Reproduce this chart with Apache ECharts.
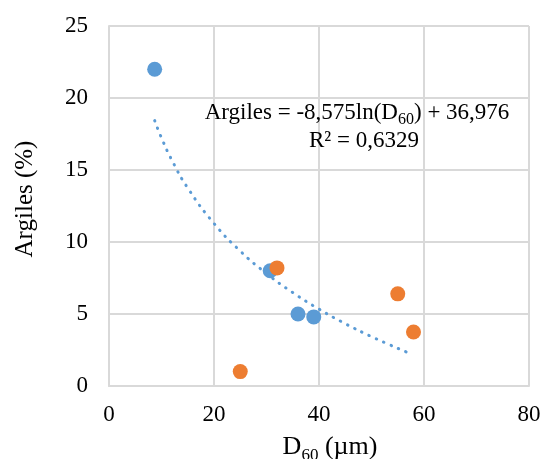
<!DOCTYPE html>
<html>
<head>
<meta charset="utf-8">
<script src="https://cdn.jsdelivr.net/npm/echarts@6/dist/echarts.min.js"></script>
<style>
html,body{margin:0;padding:0;background:#fff;}
#c{width:545px;height:459px;}
</style>
</head>
<body>
<div id="c"></div>
<script>
// Series 1 (blue)
var blueX = [8.7, 30.7, 36, 39];
var blueY = [22, 8.0, 5.0, 4.8];
// Series 2 (orange)
var orangeX = [32, 25, 55, 58];
var orangeY = [8.2, 1.0, 6.4, 3.75];
// Logarithmic trendline points
var trendX = [8.7, 10, 12, 15, 20, 25, 30, 35, 40, 45, 50, 56.6];
var trendY = [18.43, 17.23, 15.67, 13.75, 11.29, 9.37, 7.81, 6.49, 5.34, 4.33, 3.43, 2.37];
// Axes
var xTicks = [0, 20, 40, 60, 80];
var yTicks = [0, 5, 10, 15, 20, 25];
var equationLine1 = ['Argiles = -8,575ln(D', '60', ') + 36,976'];
var equationLine2 = 'R² = 0,6329';

function pairs(xs, ys) { return xs.map(function (x, i) { return [x, ys[i]]; }); }

var FONT = '"Liberation Serif", "Times New Roman", serif';
var chart = echarts.init(document.getElementById('c'), null, { renderer: 'canvas' });

var option = {
  animation: false,
  backgroundColor: '#ffffff',
  textStyle: { fontFamily: FONT },
  grid: { left: 109, right: 16, top: 26, bottom: 73, containLabel: false, outerBoundsMode: 'none' },
  xAxis: {
    type: 'value',
    min: xTicks[0], max: xTicks[xTicks.length - 1], interval: 20,
    axisLine: { show: true, lineStyle: { color: '#d9d9d9', width: 2 } },
    axisTick: { show: false },
    splitLine: { show: true, lineStyle: { color: '#d9d9d9', width: 2 } },
    axisLabel: { color: '#000', fontSize: 23, fontFamily: FONT, margin: 17 },
    name: '{a|D}{s|60}{a| (µm)}',
    nameLocation: 'middle',
    nameGap: 45,
    nameTextStyle: {
      padding: [0, 0, 0, 22],
      rich: {
        a: { fontSize: 26, fontFamily: FONT, color: '#000', lineHeight: 32 },
        s: { fontSize: 17, fontFamily: FONT, color: '#000', lineHeight: 16, padding: [16, 0, 0, 0] }
      }
    }
  },
  yAxis: {
    type: 'value',
    min: yTicks[0], max: yTicks[yTicks.length - 1], interval: 5,
    axisLine: { show: true, lineStyle: { color: '#d9d9d9', width: 2 } },
    axisTick: { show: false },
    splitLine: { show: true, lineStyle: { color: '#d9d9d9', width: 2 } },
    axisLabel: { color: '#000', fontSize: 23, fontFamily: FONT, margin: 21 },
    name: 'Argiles (%)',
    nameLocation: 'middle',
    nameGap: 71,
    nameTextStyle: { color: '#000', fontSize: 25, fontFamily: FONT, padding: [0, 0, 0, 14] }
  },
  graphic: [{
    type: 'text',
    x: 357, y: 99,
    style: {
      text: '{a|' + equationLine1[0] + '}{s|' + equationLine1[1] + '}{a|' + equationLine1[2] + '}',
      align: 'center',
      verticalAlign: 'top',
      rich: {
        a: { fontSize: 23, fontFamily: FONT, fill: '#000', lineHeight: 28 },
        s: { fontSize: 16, fontFamily: FONT, fill: '#000', lineHeight: 14, padding: [14, 0, 0, 0] }
      }
    },
    z: 100
  }, {
    type: 'text',
    x: 364, y: 127,
    style: {
      text: equationLine2,
      align: 'center',
      verticalAlign: 'top',
      fontSize: 23, fontFamily: FONT, fill: '#000', lineHeight: 28
    },
    z: 100
  }],
  series: [
    {
      name: 'Tendance',
      type: 'line',
      data: pairs(trendX, trendY),
      smooth: true,
      showSymbol: false,
      symbol: 'none',
      lineStyle: { color: '#5b9bd5', width: 3, type: [0.5, 7.5], cap: 'round' },
      z: 2
    },
    {
      name: 'Série 1',
      type: 'scatter',
      data: pairs(blueX, blueY),
      symbol: 'circle',
      symbolSize: 15,
      itemStyle: { color: '#5b9bd5', opacity: 1 },
      z: 3
    },
    {
      name: 'Série 2',
      type: 'scatter',
      data: pairs(orangeX, orangeY),
      symbol: 'circle',
      symbolSize: 15,
      itemStyle: { color: '#ed7d31', opacity: 1 },
      z: 4
    }
  ]
};
chart.setOption(option);
</script>
</body>
</html>
